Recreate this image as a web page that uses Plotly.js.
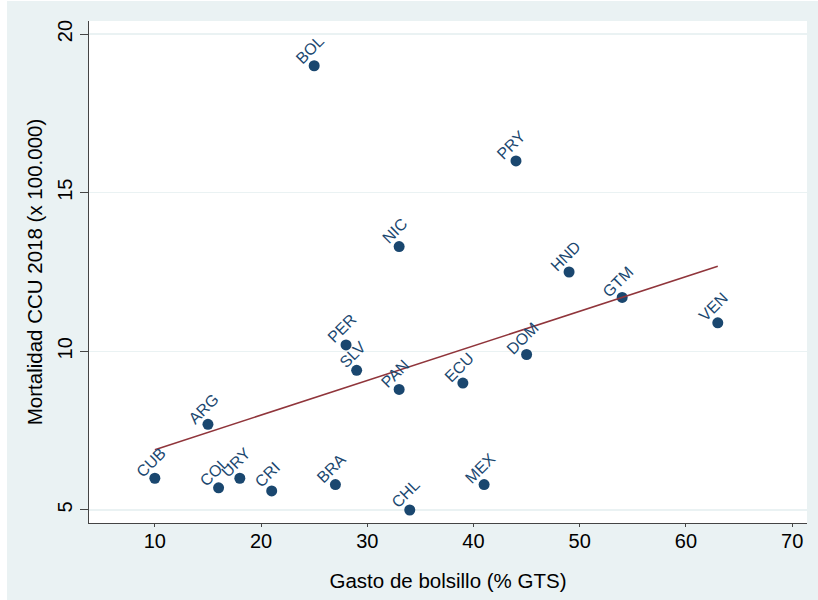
<!DOCTYPE html>
<html>
<head>
<meta charset="utf-8">
<script src="https://cdn.plot.ly/plotly-3.0.1.min.js"></script>
<style>
  html, body { margin: 0; padding: 0; background: #ffffff; }
  #chart { position: absolute; left: 7px; top: 1px; width: 811px; height: 599px; }
</style>
</head>
<body>
<div id="chart"></div>
<script>
// Country codes
const countries = ["BOL","PRY","NIC","HND","GTM","VEN","PER","DOM","SLV","ECU","PAN","ARG","CUB","COL","URY","CRI","BRA","CHL","MEX"];
// Gasto de bolsillo (% GTS)
const gastoBolsillo = [25,44,33,49,54,63,28,45,29,39,33,15,10,16,18,21,27,34,41];
// Mortalidad CCU 2018 (x 100.000)
const mortalidad = [19.0,16.0,13.3,12.5,11.7,10.9,10.2,9.9,9.4,9.0,8.8,7.7,6.0,5.7,6.0,5.6,5.8,5.0,5.8];
// Fitted line end points
const fitX = [10, 63];
const fitY = [6.9, 12.68];
// Tick values
const xTicks = [10,20,30,40,50,60,70];
const yTicks = [5,10,15,20];

const navy = "#1A476F";
const maroon = "#90353B";
const bg = "#EAF2F3";

const traces = [
  {
    x: gastoBolsillo, y: mortalidad, type: "scatter", mode: "markers",
    marker: { color: navy, size: 11 },
    hoverinfo: "skip", showlegend: false
  },
  {
    x: fitX, y: fitY, type: "scatter", mode: "lines",
    line: { color: maroon, width: 1.6 },
    hoverinfo: "skip", showlegend: false
  }
];

const annotations = countries.map((c, i) => ({
  x: gastoBolsillo[i], y: mortalidad[i], xref: "x", yref: "y",
  text: c, showarrow: false, textangle: -45,
  xanchor: "center", yanchor: "middle",
  xshift: -4, yshift: 16,
  font: { family: "Liberation Sans, Arial, sans-serif", size: 16, color: navy }
}));

const layout = {
  width: 811, height: 599,
  paper_bgcolor: bg, plot_bgcolor: "#ffffff",
  margin: { l: 82, r: 11, t: 20, b: 77 },
  font: { family: "Liberation Sans, Arial, sans-serif", color: "#000000" },
  xaxis: {
    range: [3.8, 71.4], tickvals: xTicks, ticktext: xTicks.map(String),
    showgrid: false, zeroline: false,
    showline: true, linecolor: "#444444", linewidth: 1,
    ticks: "outside", ticklen: 3, tickcolor: "#444444",
    tickfont: { size: 20 }, ticklabelstandoff: -3,
    title: { text: "Gasto de bolsillo (% GTS)", font: { size: 20.5 }, standoff: 22 },
    automargin: false
  },
  yaxis: {
    range: [4.59, 20.41], tickvals: yTicks, ticktext: yTicks.map(String),
    showgrid: true, gridcolor: bg, gridwidth: 1.5, zeroline: false,
    showline: true, linecolor: "#444444", linewidth: 1,
    ticks: "outside", ticklen: 8, tickcolor: "#444444",
    tickangle: -90, tickfont: { size: 20 },
    title: { text: "Mortalidad CCU 2018 (x 100.000)", font: { size: 20.5 }, standoff: 5 },
    automargin: false
  },
  annotations: annotations,
  showlegend: false
};

Plotly.newPlot("chart", traces, layout, { displayModeBar: false, staticPlot: true });
</script>
</body>
</html>
